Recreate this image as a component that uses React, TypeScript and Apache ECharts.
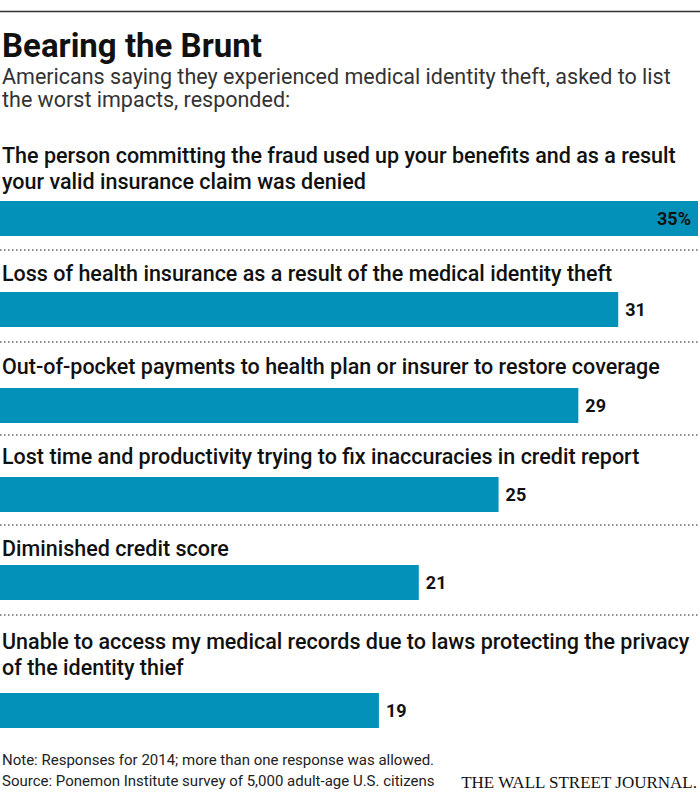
import React, { useEffect, useRef } from "react";
import * as echarts from "echarts";

const TITLE = "Bearing the Brunt";
const SUBTITLE = "Americans saying they experienced medical identity theft, asked to list\nthe worst impacts, responded:";
const NOTE = "Note: Responses for 2014; more than one response was allowed.";
const SOURCE = "Source: Ponemon Institute survey of 5,000 adult-age U.S. citizens";
const CREDIT = "THE WALL STREET JOURNAL.";

const categories = [
  "The person committing the fraud used up your benefits and as a result\nyour valid insurance claim was denied",
  "Loss of health insurance as a result of the medical identity theft",
  "Out-of-pocket payments to health plan or insurer to restore coverage",
  "Lost time and productivity trying to fix inaccuracies in credit report",
  "Diminished credit score",
  "Unable to access my medical records due to laws protecting the privacy\nof the identity thief",
];
const values = [35, 31, 29, 25, 21, 19];
const valueSuffix = ["%", "", "", "", "", ""];
const AXIS_MAX = 35;

// layout (pixels)
const BAR_TOPS = [201, 292, 388, 477, 565, 693];
const BAR_H = 35;
const LABEL_TOPS = [143, 261, 354, 444, 536, 629];
const RULE_YS = [250, 342, 435, 525, 615];

const FONT = "Roboto, 'Noto Sans', 'DejaVu Sans', sans-serif";
const BAR_COLOR = "#0391ba";

export default function App() {
  const ref = useRef<HTMLDivElement>(null);
  useEffect(() => {
    document.body.style.margin = "0";
    if (!ref.current) return;
    const chart = echarts.init(ref.current, null, { renderer: "svg" });

    const grids = values.map((_, i) => ({
      left: 0,
      right: 2,
      top: BAR_TOPS[i],
      height: BAR_H,
      containLabel: false,
    }));
    const xAxes = values.map((_, i) => ({
      type: "value",
      gridIndex: i,
      min: 0,
      max: AXIS_MAX,
      show: false,
    }));
    const yAxes = values.map((_, i) => ({
      type: "category",
      gridIndex: i,
      data: [categories[i]],
      show: false,
    }));
    const series = values.map((v, i) => ({
      type: "bar",
      xAxisIndex: i,
      yAxisIndex: i,
      data: [v],
      barWidth: BAR_H,
      itemStyle: { color: BAR_COLOR },
      label: {
        show: true,
        position: i === 0 ? "insideRight" : "right",
        distance: 7,
        formatter: () => `${v}${valueSuffix[i]}`,
        color: "#111",
        fontFamily: FONT,
        fontWeight: "bold",
        fontSize: 18,
      },
      silent: true,
    }));

    const graphics: any[] = [
      {
        type: "line",
        shape: { x1: 0, y1: 11.5, x2: 700, y2: 11.5 },
        style: { stroke: "#333", lineWidth: 1.5 },
      },
      {
        type: "text",
        x: 2,
        y: 45,
        style: {
          text: TITLE,
          fill: "#111",
          fontFamily: FONT,
          fontWeight: "bold",
          fontSize: 33,
          verticalAlign: "middle",
        },
      },
      {
        type: "text",
        x: 2,
        y: 65,
        style: {
          text: SUBTITLE,
          fill: "#333",
          fontFamily: FONT,
          fontSize: 21.5,
          lineHeight: 23,
          verticalAlign: "top",
        },
      },
      ...categories.map((c, i) => ({
        type: "text",
        x: 2,
        y: LABEL_TOPS[i],
        style: {
          text: c,
          fill: "#111",
          fontFamily: FONT,
          fontWeight: 500,
          fontSize: 21.5,
          lineHeight: 25.5,
          verticalAlign: "top",
        },
      })),
      ...RULE_YS.map((y) => ({
        type: "line",
        shape: { x1: 0, y1: y, x2: 700, y2: y },
        style: { stroke: "#666", lineWidth: 1.5, lineDash: [1.5, 2.5] },
      })),
      {
        type: "text",
        x: 2,
        y: 760,
        style: {
          text: NOTE,
          fill: "#222",
          fontFamily: FONT,
          fontSize: 15,
          verticalAlign: "middle",
        },
      },
      {
        type: "text",
        x: 2,
        y: 781,
        style: {
          text: SOURCE,
          fill: "#222",
          fontFamily: FONT,
          fontSize: 15,
          verticalAlign: "middle",
        },
      },
      {
        type: "text",
        x: 697,
        y: 782,
        style: {
          text: CREDIT,
          fill: "#111",
          fontFamily: "'Liberation Serif', 'DejaVu Serif', serif",
          fontSize: 17,
          align: "right",
          verticalAlign: "middle",
        },
      },
    ];

    chart.setOption({
      animation: false,
      grid: grids,
      xAxis: xAxes,
      yAxis: yAxes,
      series,
      graphic: graphics,
    } as any);
    return () => chart.dispose();
  }, []);
  return <div ref={ref} style={{ width: 700, height: 796 }} />;
}
